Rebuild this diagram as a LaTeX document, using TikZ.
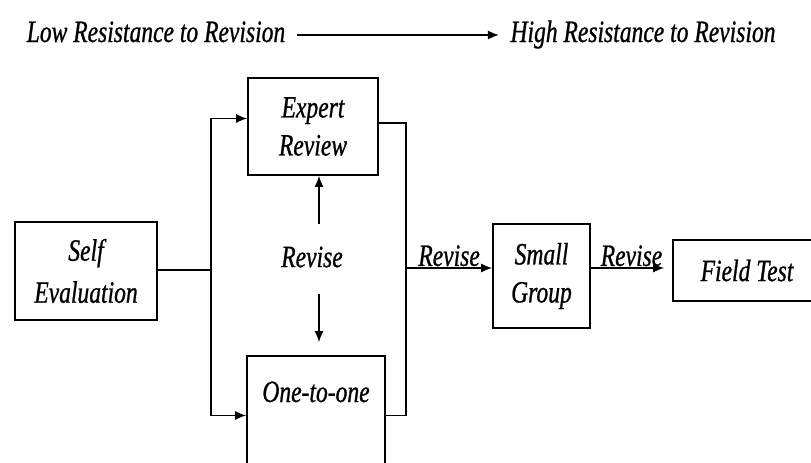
\documentclass[tikz,border=0pt]{standalone}
\usepackage{fontspec}
\usepackage{tikz}
\usetikzlibrary{arrows.meta}
\newfontfamily\revfont{Liberation Serif}[FakeStretch=0.76,FakeBold=0.8]

\begin{document}
\begin{tikzpicture}[x=1pt,y=-1pt,
  font=\revfont\itshape\fontsize{31}{38}\selectfont,
  box/.style={draw,line width=1.6pt,align=center},
  tag/.style={text height=20pt,text depth=6pt},
  arr/.style={-{Latex[length=11pt,width=9pt]},line width=1.6pt},
  wire/.style={line width=1.6pt}]
\useasboundingbox (0,0) rectangle (811,463);
\node[tag] (low) at (156,35) {Low Resistance to Revision};
\node[tag] (high) at (643,35) {High Resistance to Revision};
\draw[arr,shorten <=8pt,shorten >=8pt] (low) -- (high);
\node[box,minimum width=142pt,minimum height=98pt] (se) at (86,271) {Self\\[4pt]Evaluation};
\node[box,minimum width=130pt,minimum height=97pt] (er) at (313,126.5) {Expert\\Review};
\node[box,minimum width=138pt,inner ysep=0pt,text height=46pt,text depth=73pt] (oto) at (316,415.5) {One-to-one};
\node (rv) at (312,257) {Revise};
\node[box,minimum width=97pt,minimum height=104pt] (sg) at (541.5,276) {Small\\Group};
\node[box,minimum width=148pt,minimum height=61pt] (ft) at (747,270.5) {Field Test};
\coordinate (split) at (211,270);
\coordinate (join) at (406,268);
% self evaluation out to both reviews
\draw[wire] (se.east |- split) -- (split);
\draw[arr] (split) |- ([yshift=8pt]er.west);
\draw[arr] (split) |- (oto.west);
% revise between the two
\draw[arr,shorten <=19pt] ([xshift=7pt]rv.north) -- ([xshift=7pt]rv.north |- er.south);
\draw[arr,shorten <=23pt,shorten >=13pt] ([xshift=7pt]rv.south) -- ([xshift=7pt]rv.south |- oto.north);
% back together and on
\draw[wire] ([yshift=3.5pt]er.east) -| (join) |- (oto.east);
\draw[arr] (join) -- node[above,inner sep=1pt]{Revise} (join -| sg.west);
\draw[arr,shorten >=8pt] (join -| sg.east) -- node[above,inner sep=1pt]{Revise} (join -| ft.west);
\end{tikzpicture}
\end{document}
